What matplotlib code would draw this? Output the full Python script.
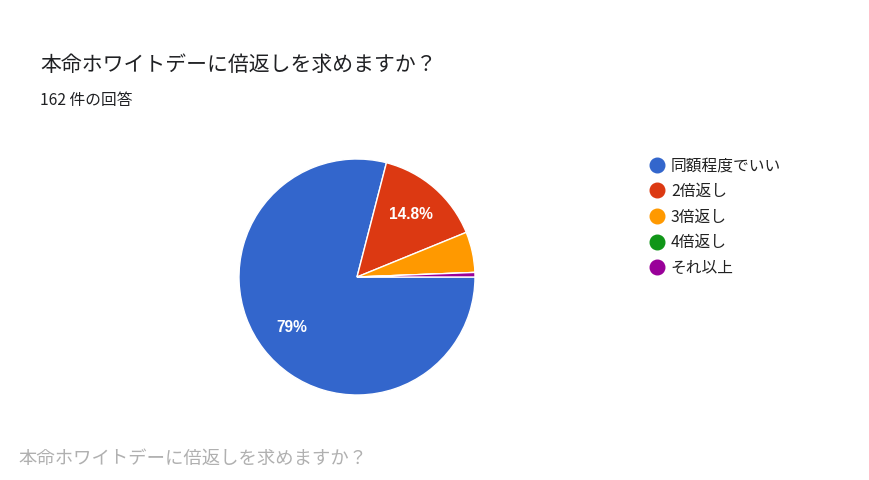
import matplotlib
matplotlib.use('Agg')
import matplotlib.pyplot as plt
from matplotlib.lines import Line2D

plt.rcParams['font.family'] = ['Noto Sans CJK JP', 'DejaVu Sans']

title = '本命ホワイトデーに倍返しを求めますか？'
subtitle = '162 件の回答'
labels = ['同額程度でいい', '2倍返し', '3倍返し', '4倍返し', 'それ以上']
counts = [128, 24, 9, 0, 1]
colors = ['#3366cc', '#dc3912', '#ff9900', '#109618', '#990099']

W, H = 870, 480
fig = plt.figure(figsize=(W / 100, H / 100), dpi=100)
fig.patch.set_facecolor('white')

# pie box: centre (357, 277), radius 118 px
cx, cy, r = 357, 277, 118
ax = fig.add_axes([(cx - r) / W, (H - cy - r) / H, 2 * r / W, 2 * r / H])

def fmt(p):
    if p < 7:
        return ''
    s = '%.1f' % p
    if s.endswith('.0'):
        s = s[:-2]
    return s + '%'

wedges, texts, autotexts = ax.pie(
    counts, colors=colors, startangle=0, counterclock=False,
    autopct=fmt, pctdistance=0.7, radius=1,
    wedgeprops=dict(edgecolor='white', linewidth=1))
for t in autotexts:
    t.set_color('white')
    t.set_fontsize(11.2)
    t.set_fontweight('bold')
    t.set_family(['Liberation Sans', 'DejaVu Sans'])
ax.set_xlim(-1, 1)
ax.set_ylim(-1, 1)

fig.text(40 / W, 1 - 65 / H, title, fontsize=15, color='#202124', va='center', ha='left')
fig.text(40 / W, 1 - 101 / H, subtitle, fontsize=11.3, color='#202124', va='center', ha='left')
fig.text(18 / W, 1 - 459 / H, title, fontsize=13.2, color='#b0b0b0', va='center', ha='left')

handles = [Line2D([], [], marker='o', linestyle='', markersize=10.5,
                  markerfacecolor=c, markeredgecolor=c) for c in colors]
fig.legend(handles, labels, loc='upper left', bbox_to_anchor=(641 / W, 1 - 151 / H),
           frameon=False, fontsize=11.3, handletextpad=0.3, labelspacing=0.55,
           handlelength=1.2, borderaxespad=0, labelcolor='#222222')

fig.savefig('out.png', dpi=100, facecolor='white')
